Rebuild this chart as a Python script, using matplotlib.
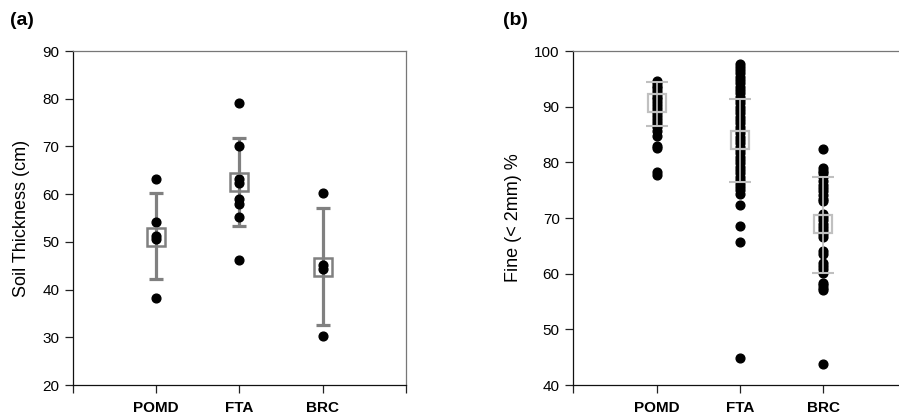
import matplotlib.pyplot as plt

plt.rcParams['font.family'] = ['Liberation Sans', 'DejaVu Sans']

sites = ['POMD', 'FTA', 'BRC']

# (a) soil thickness, cm
thick_pomd = [63.2, 54.2, 51.2, 50.6, 38.2]
thick_fta = [79.2, 70.2, 63.2, 62.3, 59.0, 58.0, 55.2, 46.2]
thick_brc = [60.2, 45.2, 44.3, 30.2]
thick_mean = [51.1, 62.6, 44.8]
thick_low = [42.3, 53.4, 32.6]
thick_high = [60.2, 71.7, 57.0]

# (b) fine fraction (< 2mm), %
fine_pomd = [94.7, 94.3, 93.8, 93.3, 92.8, 92.3, 91.8, 91.3, 90.8, 90.3, 89.8,
             89.3, 88.8, 88.3, 87.8, 87.3, 86.8, 86.3, 85.6, 84.8, 82.9, 82.5,
             78.2, 77.7]
fine_fta = [97.7, 97.2, 96.6, 96.0, 95.4, 94.8, 94.2, 93.6, 93.0, 92.4, 91.8,
            91.2, 90.6, 90.0, 89.4, 88.8, 88.2, 87.6, 87.0, 86.4, 85.8, 85.2,
            84.6, 84.0, 83.4, 82.8, 82.2, 81.6, 81.0, 80.4, 79.8, 79.2, 78.6,
            78.0, 77.4, 76.8, 76.2, 75.6, 75.0, 74.3, 72.3, 68.6, 65.7, 44.9]
fine_brc = [82.4, 79.0, 78.5, 78.0, 77.3, 76.6, 76.0, 75.4, 74.8, 74.1, 73.5,
            73.0, 70.8, 70.2, 69.6, 69.0, 68.4, 67.8, 67.2, 66.6, 64.0, 63.5,
            62.0, 61.4, 60.8, 60.2, 58.4, 57.9, 57.4, 57.0, 43.7]
fine_mean = [90.6, 84.0, 69.0]
fine_low = [86.6, 76.5, 60.2]
fine_high = [94.5, 91.4, 77.4]

fig = plt.figure(figsize=(8.99, 4.18), dpi=100)
ax1 = fig.add_axes([0.0812, 0.0789, 0.3704, 0.799])
ax2 = fig.add_axes([0.6377, 0.0789, 0.3704, 0.799])


def style_axes(ax, ylim, yticks, ylabel):
    ax.set_xlim(0, 4)
    ax.set_ylim(*ylim)
    ax.set_yticks(yticks)
    ax.set_xticks([0, 1, 2, 3, 4])
    ax.set_xticklabels([''] + sites + [''], fontweight='bold', fontsize=8)
    ax.tick_params(direction='out', length=5.8, width=0.9, labelsize=11,
                   color='#222222', pad=4)
    ax.tick_params(axis='x', pad=6)
    for side in ['left', 'bottom']:
        ax.spines[side].set_color('#111111')
    for side in ['top', 'right']:
        ax.spines[side].set_color('#777777')
    for s in ax.spines.values():
        s.set_linewidth(0.9)
    ax.set_ylabel(ylabel, fontsize=13, labelpad=9)


# panel (a)
err_a = [[m - lo for m, lo in zip(thick_mean, thick_low)],
         [hi - m for m, hi in zip(thick_mean, thick_high)]]
ax1.errorbar([1, 2, 3], thick_mean, yerr=err_a, fmt='none', ecolor='#808080',
             elinewidth=2.3, capsize=5, capthick=2.3, zorder=2)
for i, vals in enumerate([thick_pomd, thick_fta, thick_brc]):
    ax1.plot([i + 1] * len(vals), vals, 'o', color='black', ms=6.3, zorder=3)
ax1.plot([1, 2, 3], thick_mean, 's', ms=12.5, mfc='none', mec='#808080',
         mew=1.8, zorder=4)
style_axes(ax1, (20, 90), range(20, 91, 10), 'Soil Thickness (cm)')

# panel (b)
for i, vals in enumerate([fine_pomd, fine_fta, fine_brc]):
    ax2.plot([i + 1] * len(vals), vals, 'o', color='black', ms=6.3, zorder=2)
err_b = [[m - lo for m, lo in zip(fine_mean, fine_low)],
         [hi - m for m, hi in zip(fine_mean, fine_high)]]
ax2.errorbar([1, 2, 3], fine_mean, yerr=err_b, fmt='none', ecolor='#c0c0c0',
             elinewidth=1.2, capsize=8, capthick=1.5, zorder=3)
ax2.plot([1, 2, 3], fine_mean, 's', ms=13.5, mfc='none', mec='#c0c0c0',
         mew=1.6, zorder=4)
style_axes(ax2, (40, 100), range(40, 101, 10), 'Fine (< 2mm) %')

fig.text(0.011, 0.952, '(a)', fontsize=14, fontweight='bold', va='center')
fig.text(0.559, 0.952, '(b)', fontsize=14, fontweight='bold', va='center')

fig.savefig('out.png', dpi=100)
